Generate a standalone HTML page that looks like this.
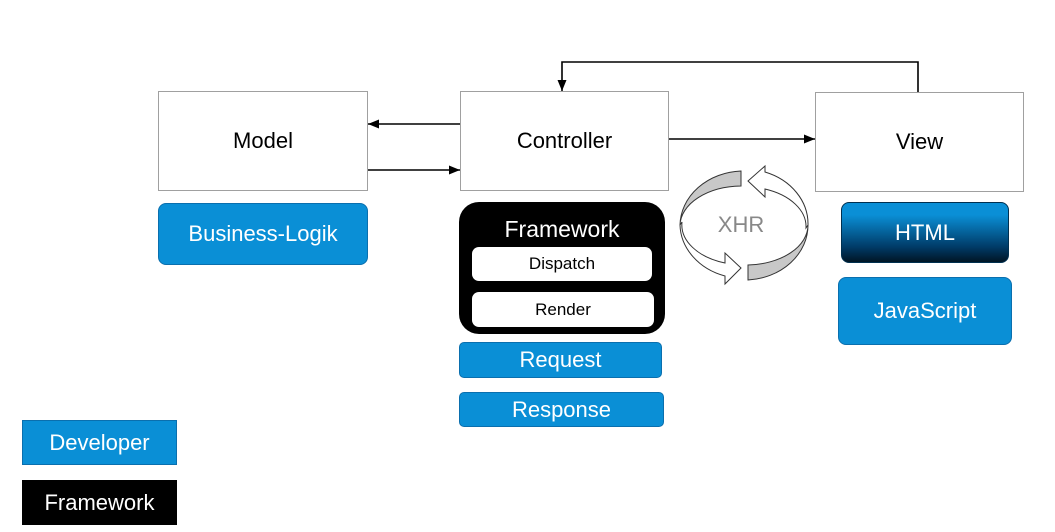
<!DOCTYPE html>
<html><head><style>
body{margin:0;width:1055px;height:532px;background:#fff;position:relative;overflow:hidden;font-family:"Liberation Sans",sans-serif}
.b{position:absolute;box-sizing:border-box;display:flex;align-items:center;justify-content:center}
.w{border:1px solid #a0a0a0;background:#fff;font-size:22px;color:#000}
.bl{background:#0a8fd6;color:#fff;font-size:22px;border:1px solid #0a6fae;border-radius:8px}
.s{background:#fff;border-radius:7px;font-size:17px;color:#000}
</style></head><body>
<div class="b w" style="left:158px;top:91px;width:210px;height:100px">Model</div>
<div class="b w" style="left:460px;top:91px;width:209px;height:100px">Controller</div>
<div class="b w" style="left:815px;top:92px;width:209px;height:100px">View</div>
<div class="b bl" style="left:158px;top:203px;width:210px;height:62px">Business-Logik</div>
<div class="b" style="left:459px;top:202px;width:206px;height:132px;background:#000;border-radius:20px;align-items:flex-start;color:#fff;font-size:23px;padding-top:14px">Framework</div>
<div class="b s" style="left:472px;top:247px;width:180px;height:34px">Dispatch</div>
<div class="b s" style="left:472px;top:292px;width:182px;height:35px">Render</div>
<div class="b bl" style="left:459px;top:342px;width:203px;height:36px;border-radius:5px">Request</div>
<div class="b bl" style="left:459px;top:392px;width:205px;height:35px;border-radius:5px">Response</div>
<div class="b bl" style="left:841px;top:202px;width:168px;height:61px;background:linear-gradient(#0a8fd6 20%,#003a66 75%,#001525);border-color:#003050">HTML</div>
<div class="b bl" style="left:838px;top:277px;width:174px;height:68px">JavaScript</div>
<div class="b bl" style="left:22px;top:420px;width:155px;height:45px;border-radius:0">Developer</div>
<div class="b" style="left:22px;top:480px;width:155px;height:45px;background:#000;color:#fff;font-size:22px">Framework</div>
<svg width="1055" height="532" style="position:absolute;left:0;top:0">
<defs><marker id="a" markerUnits="userSpaceOnUse" markerWidth="11" markerHeight="9" refX="11" refY="4.5" orient="auto"><path d="M0,0L11,4.5L0,9z" fill="#000"/></marker></defs>
<g stroke="#000" stroke-width="1.6" fill="none">
<path d="M918,92V62H562V91" marker-end="url(#a)"/>
<path d="M460,124H368" marker-end="url(#a)"/>
<path d="M368,170H460" marker-end="url(#a)"/>
<path d="M669,139H815" marker-end="url(#a)"/>
</g>
<g stroke="#333" stroke-width="1">
<path d="M808,225 A64,55 0 0 0 765,172 L765,166 L748,181 L765,197 L765,189 A62,40 0 0 1 806,228 Z" fill="#fff"/>
<path d="M680,225 A64,55 0 0 0 725,276 L725,284 L741,268 L725,253 L725,263 A62,40 0 0 1 682,222 Z" fill="#fff"/>
<path d="M741,171 A64,55 0 0 0 680,225 A62,40 0 0 1 741,186 Z" fill="#c8c8c8"/>
<path d="M748,280 A64,55 0 0 0 808,225 A62,40 0 0 1 748,265 Z" fill="#c8c8c8"/>
</g>
<text x="741" y="232" font-size="22" fill="#888" text-anchor="middle" font-family="Liberation Sans">XHR</text>
</svg>
</body></html>
